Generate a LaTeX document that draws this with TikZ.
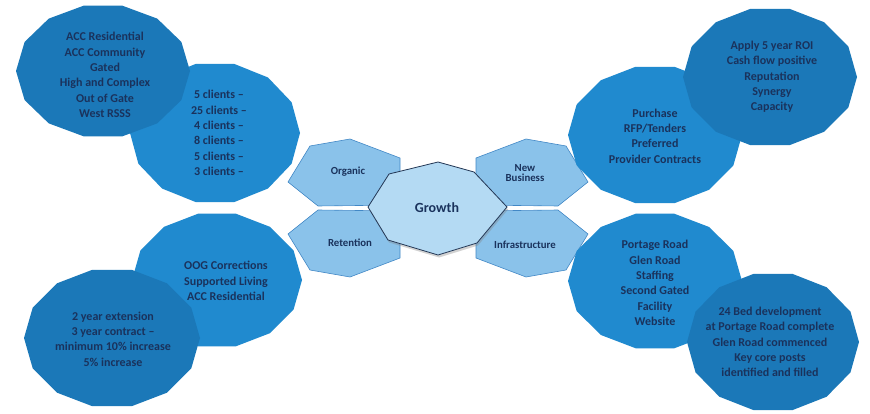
\documentclass[tikz,border=0pt]{standalone}
\usepackage{fontspec}
\setmainfont{Carlito}
\usetikzlibrary{shadows}
\definecolor{outerblue}{RGB}{27,120,184}
\definecolor{innerblue}{RGB}{32,138,207}
\definecolor{hexblue}{RGB}{138,194,234}
\definecolor{hexedge}{RGB}{66,136,198}
\definecolor{growthblue}{RGB}{180,218,243}
\definecolor{growthedge}{RGB}{35,55,85}
\definecolor{navytext}{RGB}{26,50,92}
\tikzset{
  lbl/.style={align=center, text=navytext, inner sep=0pt, font=\bfseries\fontsize{12}{15.3}\selectfont},
  hexlbl/.style={align=center, text=navytext, inner sep=0pt, font=\bfseries\fontsize{10.8}{10.5}\selectfont},
  hexshape/.style={fill=hexblue, draw=hexedge, line width=0.6pt},
  growthshape/.style={fill=growthblue, draw=growthedge, line width=0.8pt,
    drop shadow={shadow xshift=1pt, shadow yshift=-2.5pt, opacity=0.35}},
}
\newcommand\bigpoly[5]{\fill[#1] plot[domain=0:360,samples=15,variable=\t] ({#2+#4*cos(\t)},{#3+#5*sin(\t)}) -- cycle;}
\begin{document}
\begin{tikzpicture}[x=1pt,y=-1pt]
\fill[white] (0,0) rectangle (870,414);
\useasboundingbox (0,0) rectangle (870,414);
% small hexagons
\draw[hexshape] (288,182) -- (310,146) -- (350,139) -- (400,158) -- (400,205) -- (318,206) -- cycle;
\draw[hexshape] (588,182) -- (566,146) -- (526,139) -- (476,158) -- (476,205) -- (558,206) -- cycle;
\draw[hexshape] (288,234) -- (310,270) -- (350,277) -- (400,258) -- (400,211) -- (318,210) -- cycle;
\draw[hexshape] (588,234) -- (566,270) -- (526,277) -- (476,258) -- (476,211) -- (558,210) -- cycle;
% inner big polygons
\bigpoly{innerblue}{215}{133}{85}{71}
\bigpoly{innerblue}{217}{280}{85}{68}
\bigpoly{innerblue}{655}{135}{87}{70}
\bigpoly{innerblue}{655}{281}{87}{69}
% outer big polygons
\bigpoly{outerblue}{103}{71}{87}{67}
\bigpoly{outerblue}{112}{338}{88}{70}
\bigpoly{outerblue}{770}{77}{87}{70}
\bigpoly{outerblue}{773}{342}{86}{70}
% centre
\draw[growthshape] (368,207) -- (389,174) -- (438,162) -- (474,172) -- (507,207) -- (477,243) -- (438,255) -- (388,240) -- cycle;
% labels
\node[lbl] (acc) at (105,75) {ACC Residential\\ACC Community\\Gated\\High and Complex\\Out of Gate\\West RSSS};
\node[lbl] (clients) at (219,133) {5 clients --\\25 clients --\\4 clients --\\8 clients --\\5 clients --\\3 clients --};
\node[lbl] (oog) at (226,281) {OOG Corrections\\Supported Living\\ACC Residential};
\node[lbl] (ext) at (113,339) {2 year extension\\3 year contract --\\minimum 10\% increase\\5\% increase};
\node[lbl] (purchase) at (655,136) {Purchase\\RFP/Tenders\\Preferred\\Provider Contracts};
\node[lbl] (roi) at (772,77) {Apply 5 year ROI\\Cash flow positive\\Reputation\\Synergy\\Capacity};
\node[lbl] (portage) at (655,283) {Portage Road\\Glen Road\\Staffing\\Second Gated\\Facility\\Website};
\node[lbl] (bed) at (770,342) {24 Bed development\\at Portage Road complete\\Glen Road commenced\\Key core posts\\identified and filled};
\node[hexlbl] (organic) at (348,172) {Organic};
\node[hexlbl] (newbiz) at (525,173) {New\\Business};
\node[hexlbl] (retention) at (350,243) {Retention};
\node[hexlbl] (infra) at (525,245) {Infrastructure};
\node[text=navytext, inner sep=0pt, font=\bfseries\fontsize{14}{16}\selectfont] (growth) at (437,208) {Growth};
\end{tikzpicture}
\end{document}
